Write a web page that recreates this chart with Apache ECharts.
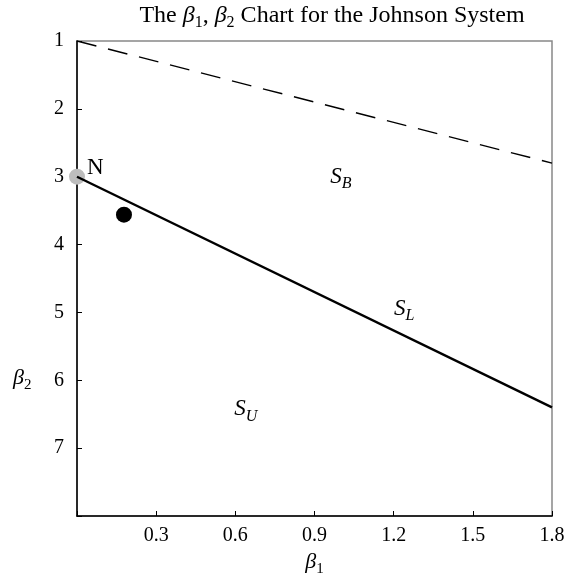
<!DOCTYPE html>
<html>
<head>
<meta charset="utf-8">
<script src="https://cdn.jsdelivr.net/npm/echarts@6/dist/echarts.min.js"></script>
<style>
  html, body { margin: 0; padding: 0; background: #fff; }
  #chart { width: 565px; height: 573px; }
</style>
</head>
<body>
<div id="chart"></div>
<script>
// Johnson system boundaries in the (beta1, beta2) plane
const limitLine = [[0, 1], [1.8, 2.8]];        // beta2 = beta1 + 1 (impossible region boundary)
const lognormalLine = [[0, 3], [1.8, 6.4]];    // S_L curve
const normalPoint = [[0, 3]];                  // N
const samplePoint = [[0.178, 3.56]];           // observed sample
const xTicks = [0.3, 0.6, 0.9, 1.2, 1.5, 1.8];
const yTicks = [1, 2, 3, 4, 5, 6, 7];
const regionNames = ['B', 'L', 'U'];

const SERIF = '"Liberation Serif", "DejaVu Serif", serif';

// anchors for the region names, in data units
const regionAnchors = { B: [1.0, 3.05], L: [1.24, 5.0], U: [0.64, 6.48] };

const subRich = {
  m: { fontFamily: SERIF, fontSize: 23, fontStyle: 'italic', color: '#000', lineHeight: 23, padding: [0, 0, 7, 0] },
  s: { fontFamily: SERIF, fontSize: 16, fontStyle: 'italic', color: '#000', lineHeight: 16, verticalAlign: 'bottom' },
  n: { fontFamily: SERIF, fontSize: 15, color: '#000', lineHeight: 15, verticalAlign: 'bottom' }
};

const axisNameRich = {
  m: { fontFamily: SERIF, fontSize: 22, fontStyle: 'italic', color: '#000', lineHeight: 22, padding: [0, 0, 7, 0] },
  n: { fontFamily: SERIF, fontSize: 15, color: '#000', lineHeight: 15, verticalAlign: 'bottom' }
};

const chart = echarts.init(document.getElementById('chart'), null, { renderer: 'canvas' });

const option = {
  animation: false,
  backgroundColor: '#fff',
  title: {
    text: '{t|The }{m|β}{n|1}{t|, }{m|β}{n|2}{t| Chart for the Johnson System}',
    left: 327, top: 2, textAlign: 'center',
    textStyle: {
      fontWeight: 'normal',
      rich: {
        t: { fontFamily: SERIF, fontSize: 24, fontWeight: 'normal', color: '#000', lineHeight: 24, padding: [0, 0, 6, 0] },
        m: { fontFamily: SERIF, fontSize: 24, fontWeight: 'normal', fontStyle: 'italic', color: '#000', lineHeight: 24, padding: [0, 0, 6, 0] },
        n: { fontFamily: SERIF, fontSize: 16, fontWeight: 'normal', color: '#000', lineHeight: 16, verticalAlign: 'bottom' }
      }
    }
  },
  grid: {
    left: 77, top: 41, width: 475, height: 475,
    outerBoundsMode: 'none', containLabel: false,
    show: true, borderColor: '#888', borderWidth: 1.5, backgroundColor: 'transparent'
  },
  xAxis: {
    type: 'value', min: 0, max: 1.8, interval: 0.3,
    axisLine: { show: true, onZero: false, lineStyle: { color: '#000', width: 1.5 } },
    axisTick: { show: true, inside: true, length: 5, lineStyle: { color: '#000', width: 1 } },
    splitLine: { show: false },
    axisLabel: {
      margin: 10, fontFamily: SERIF, fontSize: 20, color: '#000',
      formatter: v => (xTicks.some(t => Math.abs(t - v) < 1e-9) ? v.toFixed(1) : '')
    },
    name: '{m|β}{n|1}', nameLocation: 'middle', nameGap: 36,
    nameTextStyle: { rich: axisNameRich }
  },
  yAxis: {
    type: 'value', min: 1, max: 8, interval: 1, inverse: true,
    axisLine: { show: true, onZero: false, lineStyle: { color: '#000', width: 1.5 } },
    axisTick: { show: true, inside: true, length: 5, lineStyle: { color: '#000', width: 1 } },
    splitLine: { show: false },
    axisLabel: {
      margin: 13, fontFamily: SERIF, fontSize: 20, color: '#000',
      formatter: v => (yTicks.includes(v) ? String(v) : '')
    }
  },
  graphic: [{
    type: 'text', left: 13, top: 367, silent: true,
    style: { text: '{m|β}{n|2}', rich: axisNameRich }
  }],
  series: [
    {
      type: 'line', data: limitLine, symbol: 'none', z: 3,
      lineStyle: { color: '#000', width: 1.4, type: [20, 12] }
    },
    {
      type: 'scatter', data: normalPoint, symbolSize: 16, z: 2, clip: false,
      itemStyle: { color: '#bdbdbd', opacity: 1 },
      label: {
        show: true, formatter: 'N', position: 'right', offset: [-3, -9],
        fontFamily: SERIF, fontSize: 23, color: '#000', opacity: 1
      }
    },
    {
      type: 'line', data: lognormalLine, symbol: 'none', z: 4,
      lineStyle: { color: '#000', width: 2.4 }
    },
    {
      type: 'scatter', data: samplePoint, symbolSize: 16, z: 5,
      itemStyle: { color: '#000', opacity: 1 }
    },
    {
      type: 'scatter', symbolSize: 0, z: 6, silent: true,
      itemStyle: { opacity: 1 },
      data: regionNames.map(k => ({ value: regionAnchors[k], name: k })),
      label: {
        show: true, position: 'inside', color: '#000', opacity: 1,
        formatter: p => '{m|S}{s|' + p.name + '}',
        rich: subRich
      }
    }
  ]
};

chart.setOption(option);
</script>
</body>
</html>
